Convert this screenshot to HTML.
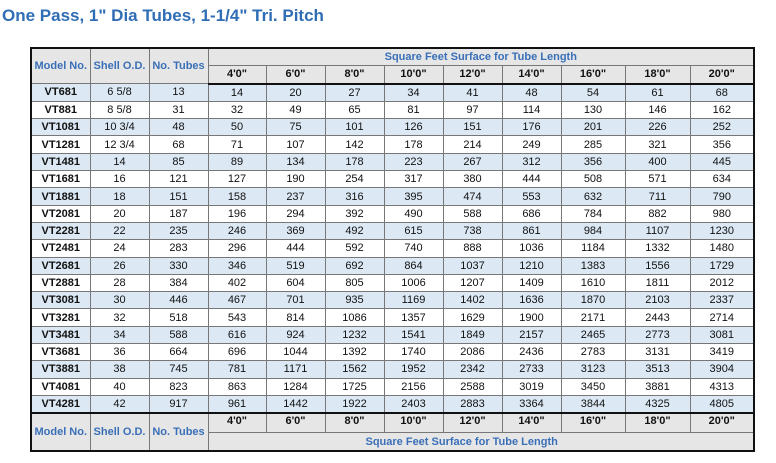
<!DOCTYPE html>
<html><head><meta charset="utf-8">
<style>
body{margin:0;width:776px;height:463px;background:#fff;overflow:hidden;font-family:"Liberation Sans",Arial,sans-serif;position:relative}
h1{position:absolute;left:2px;top:6px;margin:0;font-size:17px;font-weight:bold;color:#2f6db5}
table{position:absolute;left:30px;top:47px;border-collapse:collapse;table-layout:fixed;width:723px;border:2px solid #111}
td{border:1px solid #777;text-align:center;font-size:11px;color:#111;padding:0;height:16.3px;line-height:14px;overflow:hidden;white-space:nowrap}
td.h{background:#e6e6e6;color:#3a6fb7;font-weight:bold;font-size:11px}
td.l{background:#e6e6e6;font-weight:bold;font-size:11px;color:#111}
tr.alt td{background:#dce9f5}
td.m{font-weight:bold}
tr.thick td{border-bottom:2px solid #111}
tr.thickt td{border-top:2px solid #111}
</style></head><body>
<h1>One Pass, 1" Dia Tubes, 1-1/4" Tri. Pitch</h1>
<table>
<colgroup><col style="width:59px"><col style="width:59px"><col style="width:59px"><col style="width:58px"><col style="width:59px"><col style="width:59px"><col style="width:59px"><col style="width:59px"><col style="width:59px"><col style="width:64px"><col style="width:65px"><col style="width:64px"></colgroup>
<tbody id="tb"></tbody>
</table>
<script>
const models=["VT681","VT881","VT1081","VT1281","VT1481","VT1681","VT1881","VT2081","VT2281","VT2481","VT2681","VT2881","VT3081","VT3281","VT3481","VT3681","VT3881","VT4081","VT4281"];
const shells=["6 5/8","8 5/8","10 3/4","12 3/4","14","16","18","20","22","24","26","28","30","32","34","36","38","40","42"];
const tubes=[13,31,48,68,85,121,151,187,235,283,330,384,446,518,588,664,745,823,917];
const lengths=["4'0\"","6'0\"","8'0\"","10'0\"","12'0\"","14'0\"","16'0\"","18'0\"","20'0\""];
const surf=[
[14,20,27,34,41,48,54,61,68],
[32,49,65,81,97,114,130,146,162],
[50,75,101,126,151,176,201,226,252],
[71,107,142,178,214,249,285,321,356],
[89,134,178,223,267,312,356,400,445],
[127,190,254,317,380,444,508,571,634],
[158,237,316,395,474,553,632,711,790],
[196,294,392,490,588,686,784,882,980],
[246,369,492,615,738,861,984,1107,1230],
[296,444,592,740,888,1036,1184,1332,1480],
[346,519,692,864,1037,1210,1383,1556,1729],
[402,604,805,1006,1207,1409,1610,1811,2012],
[467,701,935,1169,1402,1636,1870,2103,2337],
[543,814,1086,1357,1629,1900,2171,2443,2714],
[616,924,1232,1541,1849,2157,2465,2773,3081],
[696,1044,1392,1740,2086,2436,2783,3131,3419],
[781,1171,1562,1952,2342,2733,3123,3513,3904],
[863,1284,1725,2156,2588,3019,3450,3881,4313],
[961,1442,1922,2403,2883,3364,3844,4325,4805]];
const tb=document.getElementById('tb');
function tr(cls){const r=document.createElement('tr');if(cls)r.className=cls;tb.appendChild(r);return r;}
function td(r,txt,cls,name,rs,cs){const c=document.createElement('td');c.textContent=txt;if(cls)c.className=cls;if(rs)c.rowSpan=rs;if(cs)c.colSpan=cs;


r.appendChild(c);return c;}
let r=tr();
td(r,"Model No.","h","model-header",2);td(r,"Shell O.D.","h","shell-header",2);td(r,"No. Tubes","h","tubes-header",2);
td(r,"Square Feet Surface for Tube Length","h","surface-header",1,9);
r=tr('thick');lengths.forEach((l,i)=>td(r,l,"l","length-header-"+i));
models.forEach((m,i)=>{const row=tr(i%2===0?'alt':'');
td(row,m,"m","model-cell");td(row,shells[i],"","shell-cell");td(row,tubes[i],"","tubes-cell");
surf[i].forEach(v=>td(row,v,"","surface-cell"));});
r=tr('thickt');
const a=td(r,"Model No.","h","model-footer",2);a.style.height="18px";td(r,"Shell O.D.","h","shell-footer",2);td(r,"No. Tubes","h","tubes-footer",2);
lengths.forEach((l,i)=>{const c=td(r,l,"l","length-footer-"+i);c.style.height="18px";c.style.verticalAlign="top";});
r=tr();const f=td(r,"Square Feet Surface for Tube Length","h","surface-footer",1,9);f.style.height="17px";f.style.textAlign="left";f.style.paddingLeft="157px";
</script>
</body></html>
